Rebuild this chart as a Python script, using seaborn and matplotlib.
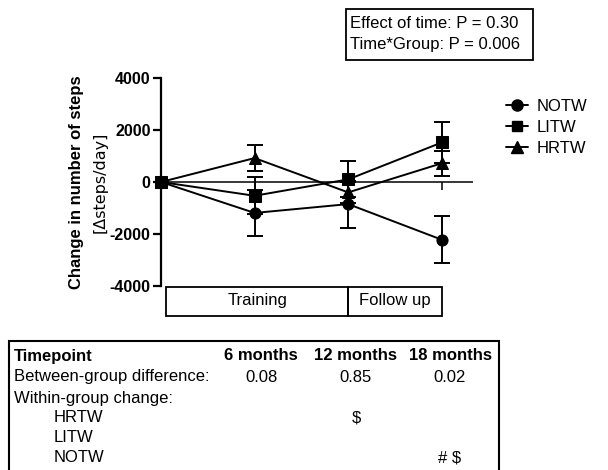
import numpy as np
import pandas as pd
import matplotlib
matplotlib.use("Agg")
import matplotlib.pyplot as plt
from matplotlib.patches import Rectangle
from matplotlib.lines import Line2D
import seaborn as sns

# Mean change in daily steps (and SEM) at each timepoint, per group
months = [0, 6, 12, 18]
groups = ["NOTW", "LITW", "HRTW"]
notw_mean = [0, -1190, -850, -2220]
notw_sem = [0, 870, 900, 910]
litw_mean = [0, -530, 100, 1520]
litw_sem = [0, 710, 690, 780]
hrtw_mean = [0, 920, -400, 720]
hrtw_sem = [0, 500, 400, 490]

y_ticks = [-4000, -2000, 0, 2000, 4000]
phase_labels = ["Training", "Follow up"]
phase_bounds = [0.33, 12, 18]

stats_lines = ["Effect of time: P = 0.30", "Time*Group: P = 0.006"]
table_cols = ["6 months", "12 months", "18 months"]
between_p = ["0.08", "0.85", "0.02"]
within_rows = ["HRTW", "LITW", "NOTW"]
within_marks = [["", "$", ""], ["", "", ""], ["", "", "# $"]]

means = {"NOTW": notw_mean, "LITW": litw_mean, "HRTW": hrtw_mean}
sems = {"NOTW": notw_sem, "LITW": litw_sem, "HRTW": hrtw_sem}
markers = {"NOTW": "o", "LITW": "s", "HRTW": "^"}
msizes = {"NOTW": 8, "LITW": 7.5, "HRTW": 8.5}

df = pd.DataFrame(
    [(g, m, v) for g in groups for m, v in zip(months, means[g])],
    columns=["group", "month", "change"],
)

sns.set_theme(style="white")
plt.rcParams["font.family"] = ["Liberation Sans", "DejaVu Sans"]
plt.rcParams["text.color"] = "black"
plt.rcParams["axes.labelcolor"] = "black"
plt.rcParams["ytick.color"] = "black"
plt.rcParams["xtick.color"] = "black"

W, H = 608, 470
fig = plt.figure(figsize=(W / 100, H / 100), dpi=100)


def fx(px):
    return px / W


def fy(py):
    return 1 - py / H


ax = fig.add_axes([fx(161), fy(286), fx(473) - fx(161), fy(78) - fy(286)])

# error bars first, then means with markers on top
for g in ["HRTW", "NOTW", "LITW"]:
    ax.errorbar(months, means[g], yerr=sems[g], fmt="none", ecolor="black",
                elinewidth=1.4, capsize=5.5, capthick=1.4, clip_on=False, zorder=2)

sns.lineplot(data=df, x="month", y="change", style="group", hue="group",
             palette={g: "black" for g in groups}, markers=markers, dashes=False,
             linewidth=1.4, markersize=8, markeredgecolor="black",
             legend=False, ax=ax, zorder=3, clip_on=False)
for line in ax.lines:
    line.set_clip_on(False)

ax.axhline(0, color="black", lw=1.1, zorder=1)
ax.vlines(months[1:], -310, 0, color="black", lw=1.1, zorder=1)

ax.set_xlim(0, 20)
ax.set_ylim(-4000, 4000)
ax.set_yticks(y_ticks)
ax.set_yticklabels([str(t) for t in y_ticks], fontweight="bold", fontsize=11.5)
ax.set_xticks([])
ax.set_xlabel("")
ax.set_ylabel("")
for s in ["top", "right", "bottom"]:
    ax.spines[s].set_visible(False)
ax.spines["left"].set_linewidth(1.6)
ax.spines["left"].set_color("black")
ax.tick_params(axis="y", left=True, length=6, width=1.6, color="black", pad=1.5,
               labelcolor="black")

# two-line y-axis title
fig.text(fx(77), fy(182), "Change in number of steps", rotation=90, ha="center",
         va="center", fontsize=12, fontweight="bold")
fig.text(fx(100), fy(182), "[Δsteps/day]", rotation=90, ha="center", va="center",
         fontsize=11.5, family="DejaVu Sans")

# legend
handles = [Line2D([], [], color="black", lw=1.4, marker=markers[g],
                  markersize=msizes[g]) for g in groups]
fig.legend(handles, groups, loc="upper left", bbox_to_anchor=(fx(498), fy(91)),
           frameon=False, fontsize=12, handlelength=1.3, handletextpad=0.5,
           labelspacing=0.35, borderpad=0)

# statistics box
fig.patches.append(Rectangle((fx(346), fy(60)), fx(533) - fx(346), fy(9) - fy(60),
                             transform=fig.transFigure, fill=False, lw=1.3,
                             edgecolor="black"))
for i, s in enumerate(stats_lines):
    fig.text(fx(350), fy(24 + 21 * i), s, ha="left", va="center", fontsize=12)

# study phase boxes below the axis
to_px = lambda m: 161 + m * 15.6
for i, lab in enumerate(phase_labels):
    x0, x1 = to_px(phase_bounds[i]), to_px(phase_bounds[i + 1])
    fig.patches.append(Rectangle((fx(x0), fy(316)), fx(x1) - fx(x0), fy(287) - fy(316),
                                 transform=fig.transFigure, fill=False, lw=1.3,
                                 edgecolor="black"))
    fig.text(fx((x0 + x1) / 2), fy(301), lab, ha="center", va="center", fontsize=12)

# summary table
fig.patches.append(Rectangle((fx(9), fy(480)), fx(499) - fx(9), fy(341) - fy(480),
                             transform=fig.transFigure, fill=False, lw=1.5,
                             edgecolor="black"))
col_x = [261, 356, 450]
row_y = [356, 377, 398, 418, 438, 458]
fig.text(fx(14), fy(row_y[0]), "Timepoint", ha="left", va="center", fontsize=12,
         fontweight="bold")
for cx, c in zip(col_x, table_cols):
    fig.text(fx(cx), fy(row_y[0]), c, ha="center", va="center", fontsize=12,
             fontweight="bold")
fig.text(fx(14), fy(row_y[1]), "Between-group difference:", ha="left", va="center",
         fontsize=12)
for cx, v in zip(col_x, between_p):
    fig.text(fx(cx), fy(row_y[1]), v, ha="center", va="center", fontsize=12)
fig.text(fx(14), fy(row_y[2]), "Within-group change:", ha="left", va="center",
         fontsize=12)
for r, (name, marks) in enumerate(zip(within_rows, within_marks)):
    y = fy(row_y[3 + r])
    fig.text(fx(54), y, name, ha="left", va="center", fontsize=12)
    for cx, mk in zip(col_x, marks):
        if mk:
            fig.text(fx(cx), y, mk, ha="center", va="center", fontsize=12)

fig.savefig("out.png", dpi=100)
